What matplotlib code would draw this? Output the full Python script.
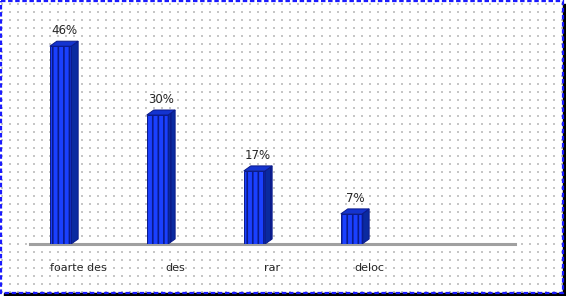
import matplotlib
matplotlib.use("Agg")
import matplotlib.pyplot as plt
import numpy as np
from matplotlib.patches import Rectangle, Polygon

categories = ["foarte des", "des", "rar", "deloc"]
values = [46, 30, 17, 7]
value_labels = ["46%", "30%", "17%", "7%"]

plt.rcParams["hatch.color"] = "#0a1a8a"
plt.rcParams["hatch.linewidth"] = 1.2

W, H = 566, 296
DPI = 100
fig = plt.figure(figsize=(W / DPI, H / DPI), dpi=DPI)
fig.patch.set_facecolor("white")

# background dotted pattern (decorative)
bg = fig.add_axes([0, 0, 1, 1], zorder=0)
bg.set_xlim(0, W)
bg.set_ylim(H, 0)
bg.axis("off")
gx, gy = np.meshgrid(np.arange(1.5, W, 8), np.arange(3.5, H, 8))
bg.scatter(gx.ravel(), gy.ravel(), s=0.8, c="#c6c6c6", marker="s", linewidths=0)
# shadow
bg.add_patch(Rectangle((562.5, 4), 3.5, 292, color="black", zorder=2))
bg.add_patch(Rectangle((4, 292.5), 562, 3.5, color="black", zorder=2))
# dashed blue border
bg.add_patch(Rectangle((1, 1), 561.5, 291.5, fill=False, edgecolor="#1a1aff",
                       linewidth=1.6, linestyle=(0, (2, 1.2)), zorder=3))

# main axes
left_px, right_px, base_px, top_px = 30, 515, 244, 20
ax = fig.add_axes([left_px / W, (H - base_px) / H, (right_px - left_px) / W,
                   (base_px - top_px) / H], zorder=1)
ax.set_facecolor("none")
n_slots = 5
ax.set_xlim(-0.5, n_slots - 0.5)
ymax = (base_px - top_px) / 4.3
ax.set_ylim(0, ymax)
for s in ax.spines.values():
    s.set_visible(False)
ax.set_xticks([])
ax.set_yticks([])
ax.axhline(0, color="#a0a0a0", linewidth=2.2, zorder=1, clip_on=False)

xpos = np.arange(len(categories))
bar_w = 0.22
offset = -0.186
dx = 7 / 97.0          # depth in x (data units)
dy = 5 / 4.3           # depth in y (data units)
front = "#1a40ff"
side = "#0a2aa0"
topc = "#1434d0"
for i, v in enumerate(values):
    x0 = xpos[i] + offset - bar_w / 2
    ax.bar(x0, v, width=bar_w, align="edge", color=front, edgecolor="#0a1a8a",
           linewidth=0.7, hatch="|||", zorder=3)
    ax.add_patch(Polygon([(x0 + bar_w, 0), (x0 + bar_w + dx, dy),
                          (x0 + bar_w + dx, v + dy), (x0 + bar_w, v)],
                         closed=True, facecolor=side, edgecolor="#0a1a8a",
                         linewidth=0.7, hatch="||", zorder=3))
    ax.add_patch(Polygon([(x0, v), (x0 + dx, v + dy), (x0 + bar_w + dx, v + dy),
                          (x0 + bar_w, v)], closed=True, facecolor=topc,
                         edgecolor="#0a1a8a", linewidth=0.7, zorder=3))
    ax.text(x0 + bar_w / 2 + dx / 2, v + dy + 1.0, value_labels[i],
            ha="center", va="bottom", fontsize=8.5, color="#262626",
            family="DejaVu Sans", zorder=4)
    ax.text(xpos[i], -5.6, categories[i], ha="center", va="center",
            fontsize=8, color="#262626", family="DejaVu Sans")

fig.savefig("out.png", dpi=DPI)
